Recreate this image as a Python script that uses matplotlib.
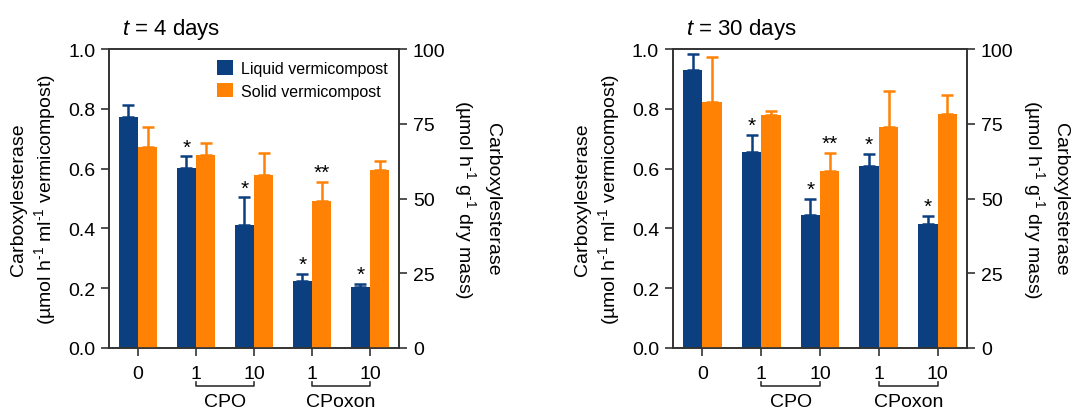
import numpy as np
import matplotlib
matplotlib.use('Agg')
import matplotlib.pyplot as plt

plt.rcParams['font.family'] = ['Liberation Sans', 'DejaVu Sans']
plt.rcParams['mathtext.fontset'] = 'custom'
plt.rcParams['mathtext.rm'] = 'Liberation Sans'
plt.rcParams['mathtext.it'] = 'Liberation Sans:italic'

# tick labels / groups
doses = ['0', '1', '10', '1', '10']
groups = ['CPO', 'CPoxon']
group_ticks = [(1, 2), (3, 4)]

# t = 4 days
liq4 = [0.773, 0.602, 0.411, 0.224, 0.204]
liq4_err = [0.039, 0.039, 0.093, 0.023, 0.010]
sol4 = [67.2, 64.5, 57.9, 49.2, 59.5]
sol4_err = [6.9, 4.1, 7.4, 6.3, 2.9]
liq4_star = ['', '*', '*', '*', '*']
sol4_star = ['', '', '', '**', '']

# t = 30 days
liq30 = [0.930, 0.656, 0.445, 0.609, 0.415]
liq30_err = [0.053, 0.056, 0.053, 0.040, 0.026]
sol30 = [82.2, 77.9, 59.2, 73.9, 78.3]
sol30_err = [15.2, 1.3, 6.0, 12.1, 6.3]
liq30_star = ['', '*', '*', '*', '*']
sol30_star = ['', '', '**', '', '']

blue = '#0b3f80'
orange = '#ff8205'
spine_c = '#333333'

fig = plt.figure(figsize=[10.72, 4.10], dpi=100)


def panel(rect, title, liq, liq_err, sol, sol_err, liq_star, sol_star, legend):
    ax = fig.add_axes(rect)
    ax2 = ax.twinx()
    x = np.arange(len(doses))
    w = 0.33
    b1 = ax.bar(x - w/2, liq, w, color=blue, label='Liquid vermicompost', zorder=2)
    ax.errorbar(x - w/2, liq, yerr=[np.zeros(len(liq)), liq_err], fmt='none',
                ecolor=blue, elinewidth=1.8, capsize=4, capthick=1.8, zorder=1)
    b2 = ax2.bar(x + w/2, sol, w, color=orange, label='Solid vermicompost', zorder=2)
    ax2.errorbar(x + w/2, sol, yerr=[np.zeros(len(sol)), sol_err], fmt='none',
                 ecolor=orange, elinewidth=1.8, capsize=4, capthick=1.8, zorder=1)
    for i in range(len(x)):
        if liq_star[i]:
            ax.annotate(liq_star[i], (x[i] - w/2, liq[i] + liq_err[i]), xytext=(0, 0),
                        textcoords='offset points', ha='center', va='bottom', fontsize=15)
        if sol_star[i]:
            ax2.annotate(sol_star[i], (x[i] + w/2, sol[i] + sol_err[i]), xytext=(0, 0),
                         textcoords='offset points', ha='center', va='bottom', fontsize=15)
    ax.set_xlim(-0.5, len(x) - 0.5)
    ax.set_ylim(0, 1.0)
    ax2.set_ylim(0, 100)
    ax.set_yticks([0, 0.2, 0.4, 0.6, 0.8, 1.0])
    ax.set_yticklabels(['%.1f' % v for v in [0, 0.2, 0.4, 0.6, 0.8, 1.0]])
    ax2.set_yticks([0, 25, 50, 75, 100])
    ax.set_xticks(x)
    ax.set_xticklabels(doses)
    for a in [ax, ax2]:
        a.tick_params(direction='out', length=6, width=1.2, color=spine_c, labelsize=14, pad=4)
        for s in a.spines.values():
            s.set_color(spine_c)
            s.set_linewidth(1.2)
    ax.tick_params(axis='x', pad=6)
    ax.set_ylabel('Carboxylesterase\n(µmol h$^{\\text{-1}}$ ml$^{\\text{-1}}$ vermicompost)',
                  fontsize=14, labelpad=7, linespacing=1.3)
    ax2.set_ylabel('Carboxylesterase\n(µmol h$^{\\text{-1}}$ g$^{\\text{-1}}$ dry mass)',
                   fontsize=14, rotation=270, labelpad=40, linespacing=1.3)
    ax.set_title(title, fontsize=16, loc='left', x=0.045, pad=11)
    tr = ax.get_xaxis_transform()
    for (a, b), g in zip(group_ticks, groups):
        ax.plot([a, a, b, b], [-0.113, -0.128, -0.128, -0.113], color=spine_c, lw=1.2,
                transform=tr, clip_on=False)
        ax.text((a + b) / 2, -0.18, g, transform=tr, ha='center', va='center', fontsize=14)
    if legend:
        ax.legend([b1, b2], ['Liquid vermicompost', 'Solid vermicompost'], loc='upper right',
                  frameon=False, fontsize=11.5, handlelength=1.0, handleheight=1.0,
                  handletextpad=0.5, labelspacing=0.45, borderaxespad=0.3)
    return ax


panel([0.1017, 0.1488, 0.2705, 0.729], '$t$ = 4 days', liq4, liq4_err, sol4, sol4_err,
      liq4_star, sol4_star, True)
panel([0.6278, 0.1488, 0.2743, 0.729], '$t$ = 30 days', liq30, liq30_err, sol30, sol30_err,
      liq30_star, sol30_star, False)

plt.savefig('out.png', dpi=100)
